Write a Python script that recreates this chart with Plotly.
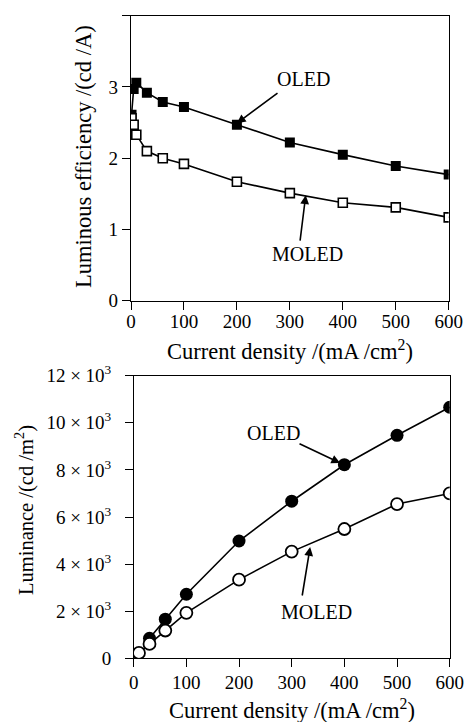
import plotly.graph_objects as go

W, H = 476, 722
OFF = 8  # page body margin

# ---- data ----
j_oled_eff = [1, 5, 10, 30, 60, 100, 200, 300, 400, 500, 600]
eff_oled = [2.61, 2.97, 3.06, 2.92, 2.79, 2.72, 2.47, 2.22, 2.05, 1.89, 1.77]
j_moled_eff = [1, 5, 10, 30, 60, 100, 200, 300, 400, 500, 600]
eff_moled = [2.56, 2.47, 2.33, 2.10, 2.00, 1.92, 1.67, 1.51, 1.375, 1.31, 1.17]

j_oled_lum = [30, 60, 100, 200, 300, 400, 500, 600]
lum_oled = [850, 1660, 2720, 4980, 6670, 8220, 9470, 10660]
j_moled_lum = [10, 30, 60, 100, 200, 300, 400, 500, 600]
lum_moled = [230, 610, 1180, 1930, 3340, 4530, 5490, 6550, 7000]

x_ticks = [0, 100, 200, 300, 400, 500, 600]
eff_ticks = [0, 1, 2, 3, 4]
lum_ticks = [0, 2000, 4000, 6000, 8000, 10000, 12000]
lum_mantissa = ["0", "2", "4", "6", "8", "10", "12"]

FONT = "Liberation Serif"
FS = 19      # tick labels
FT = 22.5    # axis titles
FL = 20      # curve labels

def px(v):
    return (v - OFF) / W

def py(v):
    return 1 - (v - OFF) / H

# tick text for the luminance axis: "n × 10³" with math-like spacing, plus a
# trailing en space to push labels away from the axis like the reference
lum_ticktext = [(m if m == "0" else m + "\u2005×\u200510<sup>3</sup>") + "\u2002"
                for m in lum_mantissa]

fig = go.Figure()

line = dict(color="black", width=1.6)
fig.add_trace(go.Scatter(x=j_oled_eff, y=eff_oled, mode="lines+markers", line=line,
                         marker=dict(symbol="square", size=10, color="black"),
                         xaxis="x", yaxis="y", showlegend=False))
fig.add_trace(go.Scatter(x=j_moled_eff, y=eff_moled, mode="lines+markers", line=line,
                         marker=dict(symbol="square", size=9, color="white",
                                     line=dict(color="black", width=1.6)),
                         xaxis="x", yaxis="y", showlegend=False))
fig.add_trace(go.Scatter(x=j_oled_lum, y=lum_oled, mode="lines+markers", line=line,
                         marker=dict(symbol="circle", size=13, color="black"),
                         xaxis="x2", yaxis="y2", showlegend=False))
fig.add_trace(go.Scatter(x=j_moled_lum, y=lum_moled, mode="lines+markers", line=line,
                         marker=dict(symbol="circle", size=12, color="white",
                                     line=dict(color="black", width=1.8)),
                         xaxis="x2", yaxis="y2", showlegend=False))

axis_common = dict(showline=True, linecolor="black", linewidth=1.3, mirror=True,
                   ticks="outside", ticklen=8, tickwidth=1.3, tickcolor="black",
                   showgrid=False, zeroline=False, automargin=False,
                   tickfont=dict(family=FONT, size=FS, color="black"))

fig.update_layout(
    width=W, height=H,
    margin=dict(l=0, r=0, t=0, b=0, autoexpand=False),
    paper_bgcolor="white", plot_bgcolor="white",
    font=dict(family=FONT, size=FS, color="black"),
    xaxis=dict(domain=[px(131), px(448.7)], range=[0, 600], tickvals=x_ticks,
               anchor="y", ticklabelstandoff=-5, **axis_common),
    yaxis=dict(domain=[py(300.7), py(15.7)], range=[0, 4], tickvals=eff_ticks,
               ticksuffix="\u2004", anchor="x", **axis_common),
    xaxis2=dict(domain=[px(133.7), px(449.7)], range=[0, 600], tickvals=x_ticks,
                anchor="y2", ticklabelstandoff=-1, **axis_common),
    yaxis2=dict(domain=[py(658.3), py(375.7)], range=[0, 12000], tickvals=lum_ticks,
                ticktext=lum_ticktext, anchor="x2", **axis_common),
)

ann = []
tt = dict(family=FONT, size=FT, color="black")
tl = dict(family=FONT, size=FL, color="black")
# axis titles
ann.append(dict(text="Current density /(mA /cm<sup>2</sup>)", xref="paper", yref="paper",
                x=px(290), y=py(350), showarrow=False, font=tt,
                xanchor="center", yanchor="middle"))
ann.append(dict(text="Current density /(mA /cm<sup>2</sup>)", xref="paper", yref="paper",
                x=px(292), y=py(709), showarrow=False, font=tt,
                xanchor="center", yanchor="middle"))
ann.append(dict(text="Luminous efficiency /(cd /A)", xref="paper", yref="paper",
                x=px(83), y=py(157), textangle=-90, showarrow=False, font=tt,
                xanchor="center", yanchor="middle"))
ann.append(dict(text="Luminance /(cd /m<sup>2</sup>)", xref="paper", yref="paper",
                x=px(24), y=py(510), textangle=-90, showarrow=False,
                font=dict(family=FONT, size=20.5, color="black"),
                xanchor="center", yanchor="middle"))

# labels and arrows
def label(text, x, y, xr, yr):
    ann.append(dict(text=text, x=x, y=y, xref=xr, yref=yr, showarrow=False, font=tl,
                    xanchor="center", yanchor="middle"))

def arrow(x, y, ax, ay, xr, yr):
    ann.append(dict(text="", x=x, y=y, ax=ax, ay=ay, xref=xr, yref=yr, axref=xr, ayref=yr,
                    showarrow=True, arrowhead=2, arrowsize=1.1, arrowwidth=1.6,
                    arrowcolor="black", standoff=0, startstandoff=0))

label("OLED", 325, 3.11, "x", "y")
arrow(200, 2.49, 279.5, 2.93, "x", "y")
label("MOLED", 334, 0.655, "x", "y")
arrow(330, 1.48, 319, 0.823, "x", "y")

label("OLED", 266, 9566, "x2", "y2")
arrow(392, 8293, 312, 9142, "x2", "y2")
label("MOLED", 348, 1966, "x2", "y2")
arrow(335, 4726, 319.5, 2603, "x2", "y2")

fig.update_layout(annotations=ann)
fig.write_html("out.html")
